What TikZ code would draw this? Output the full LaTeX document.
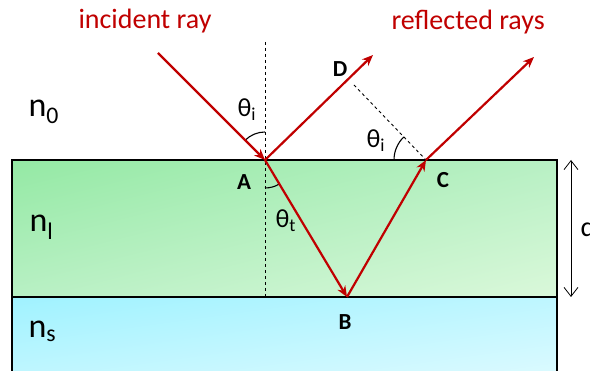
\documentclass[tikz,border=0pt]{standalone}
\usepackage{amsmath}
\usepackage{fontspec}
\setmainfont{Carlito}
\usepackage{tikz}
\usetikzlibrary{arrows.meta, positioning, shadings}

\definecolor{rayred}{RGB}{192,0,0}
\definecolor{filmA}{RGB}{148,233,164}
\definecolor{filmB}{RGB}{184,240,196}
\definecolor{filmC}{RGB}{218,248,218}
\definecolor{subA}{RGB}{160,242,255}
\definecolor{subB}{RGB}{190,246,255}
\definecolor{subC}{RGB}{218,250,255}

\begin{document}
\begin{tikzpicture}[
    x=1pt, y=-1pt,
    ray/.style={rayred, line width=2.2pt, -{Stealth[length=11pt, width=9pt]}},
    normal/.style={black, dashed, line width=0.9pt},
    anglearc/.style={black, line width=1.1pt},
    ptlabel/.style={font=\fontsize{23}{23}\selectfont\bfseries},
    medium/.style={anchor=base west, font=\fontsize{34}{34}\selectfont},
    greek/.style={anchor=base west, font=\fontsize{26}{26}\selectfont},
    caption/.style={anchor=base west, rayred, font=\fontsize{28}{28}\selectfont},
    node distance=4pt
]
\useasboundingbox (0,0) rectangle (590,371);

% layers
\shade[upper left=filmA, upper right=filmB, lower left=filmB, lower right=filmC]
    (12,160) rectangle (557,297);
\shade[upper left=subA, upper right=subB, lower left=subB, lower right=subC]
    (12,297) rectangle (557,372);
\draw[line width=1.3pt] (12,372) -- (12,160) -- (557,160) -- (557,372);
\draw[line width=1.3pt] (12,297) -- (557,297);

% points
\coordinate (A) at (265,160);
\coordinate (B) at (347,297);
\coordinate (C) at (426,160);
\coordinate (src) at (158,53);
\coordinate (D) at (373,55);
\coordinate (out) at (534,57);
\coordinate (ntop) at (265,42);
\coordinate (foot) at (354,85);

% normals and wavefront
\draw[normal] (ntop) -- (A) -- (A |- B) coordinate (nbot);
\draw[normal] (foot) -- (C);

% angles (y axis points down)
\draw[anglearc] (A) ++(225:28) arc[start angle=225, end angle=270, radius=28];
\draw[anglearc] (A) ++(59:28) arc[start angle=59, end angle=90, radius=28];
\draw[anglearc] (C) ++(180:32) arc[start angle=180, end angle=226, radius=32];

% rays
\draw[ray] (src) -- (A);
\draw[ray] (A) -- (D);
\draw[ray] (A) -- (B);
\draw[ray] (B) -- (C);
\draw[ray] (C) -- (out);

% thickness
\coordinate (dtop) at (571,160);
\coordinate (dbot) at (571,297);
\draw[line width=0.8pt, {Straight Barb[length=9pt, width=14pt]}-{Straight Barb[length=9pt, width=14pt]}] (dtop) -- (dbot);
\node[greek, font=\fontsize{28}{28}\selectfont] (dlab) at (577,237) {d};

% labels
\node[caption] (inc) at (75,29) {incident ray};
\node[caption] (refl) at (388,30) {reflected rays};
\node[medium] (n0) at (25,117) {n$_{\text{0}}$};
\node[medium] (nl) at (26,232) {n$_{\text{l}}$};
\node[medium] (ns) at (25,338) {n$_{\text{s}}$};
\node[greek] (thi) at (234,117) {θ$_{\text{i}}$};
\node[greek] (tht) at (272,228) {θ$_{\text{t}}$};
\node[greek] (thc) at (363,148) {θ$_{\text{i}}$};
\node[ptlabel] (Alab) at (244,182) {A};
\node[ptlabel] (Blab) at (345,322) {B};
\node[ptlabel] (Clab) at (443,180) {C};
\node[ptlabel] (Dlab) at (340,69) {D};
\end{tikzpicture}
\end{document}
